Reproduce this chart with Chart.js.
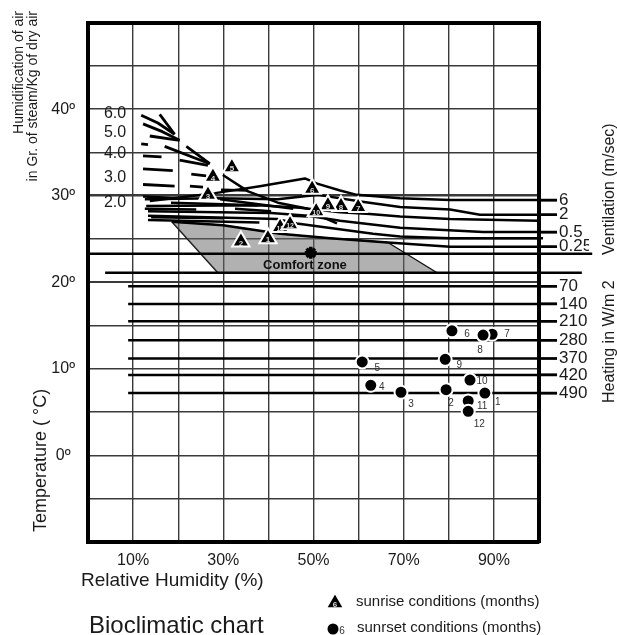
<!DOCTYPE html>
<html><head><meta charset="utf-8">
<script src="https://cdn.jsdelivr.net/npm/chart.js@4.4.0/dist/chart.umd.min.js"></script>
<style>html,body{margin:0;padding:0;background:#fff}#wrap{width:617px;height:635px;position:relative}</style>
</head><body><div id="wrap"><canvas id="c"></canvas></div>
<script>
// ---------------- DATA ----------------
const rhTicksShown = [10, 30, 50, 70, 90];
const tempTicksShown = [0, 10, 20, 30, 40];
const months = [1,2,3,4,5,6,7,8,9,10,11,12];
// sunrise conditions (triangles)
const sunriseRH = [39.9, 33.9, 26.6, 27.7, 31.9, 49.7, 59.9, 56.1, 53.2, 50.6, 42.6, 44.8];
const sunriseT  = [25.1, 24.7, 30.1, 32.2, 33.3, 30.8, 28.7, 28.8, 28.9, 28.2, 26.4, 26.7];
// sunset conditions (dots)
const sunsetRH  = [88.0, 79.4, 69.4, 62.7, 60.8, 80.7, 89.6, 87.6, 79.2, 84.7, 84.3, 84.3];
const sunsetT   = [7.2, 7.6, 7.3, 8.1, 10.8, 14.4, 14.0, 13.9, 11.1, 8.7, 6.3, 5.1];
// ventilation (m/sec) scale on the right
const ventLabels = ['6', '2', '0.5', '0.25'];
const ventT      = [29.5, 27.8, 25.8, 24.1];
// heating (W/m2) scale on the right
const heatLabels = ['70', '140', '210', '280', '370', '420', '490'];
const heatT      = [19.55, 17.5, 15.5, 13.3, 11.2, 9.3, 7.2];
const heatLineRH = [8.9, 104];
// humidification (g/kg) labels
const humidLabels  = ['6.0', '5.0', '4.0', '3.0', '2.0'];
const humidLabelT  = [39.5, 37.3, 34.9, 32.1, 29.2];
const humidLabelRH = 6.0;
// ventilation curves [RH %, T °C]
const ventCurve6   = [[13.7,29.4],[28.2,30.3],[38.1,31.1],[48.1,32.0],[50.8,31.4],[55.9,30.6],[59.6,30.1],[69.2,29.7],[80.3,29.5],[104,29.5]];
const ventCurve2   = [[12.6,29.6],[28.2,29.7],[42.1,29.6],[51.0,30.1],[60.8,29.3],[69.2,28.7],[80.3,28.4],[86.9,27.8],[104,27.8]];
const ventCurve1   = [[12.9,28.8],[37.7,28.9],[47.0,28.6],[55.9,28.1],[62.5,27.9],[69.2,27.6],[80.3,27.3],[100,27.1]];
const ventCurve05  = [[13.3,28.2],[40.6,28.0],[48.8,27.7],[55.9,27.1],[69.2,26.3],[87.6,25.8],[104,25.8]];
const ventCurve03  = [[13.3,27.7],[42.1,27.3],[46.3,26.8],[63.2,25.6],[69.2,25.3],[80.3,25.1],[100.9,25.1]];
const ventCurve025 = [[18.6,27.0],[29.9,26.6],[42.6,25.6],[53.7,25.1],[66.5,24.6],[80.3,24.1],[104,24.1]];
// humidification strokes
const humidStrokes = [
  [[11.8,39.3],[15.5,38.4],[19.2,37.1]],
  [[15.9,39.4],[19.2,37.1]],
  [[12.2,38.3],[16.5,37.4],[20.3,36.4]],
  [[13.7,36.9],[20.3,36.4]],
  [[11.8,36.0],[13.3,35.9]],
  [[17.0,35.7],[27.0,33.7]],
  [[21.8,35.7],[27.0,33.7]],
  [[20.3,34.1],[26.6,33.5]],
  [[12.2,34.6],[16.3,34.5]],
  [[12.2,33.1],[18.8,32.9]],
  [[22.9,32.5],[26.2,32.3]],
  [[12.2,31.3],[19.2,31.1]],
  [[22.6,31.1],[25.5,31.0]]
];
// dense strokes near the 2.0 level
const bundleStrokes = [
  [[29.9,32.4],[35.5,30.5],[42.1,29.2],[48.8,28.5]],
  [[29.5,30.7],[35.5,30.6]],
  [[18.4,29.2],[37.7,28.9]],
  [[32.6,28.5],[40.6,28.2]],
  [[45.0,27.7],[48.8,27.6]],
  [[52.1,27.5],[55.2,26.8]],
  [[13.3,27.2],[38.0,26.9]],
  [[29.3,29.6],[45.5,28.5]],
  [[12.2,29.9],[20.4,29.7]],
  [[12.6,28.5],[24.0,28.4]],
  [[14.0,27.5],[30.0,27.4]]
];
// comfort zone
const comfortTop    = [[18.6,27.0],[29.9,26.6],[42.6,25.6],[53.7,25.1],[66.5,24.6],[77.4,21.1]];
const comfortBottom = [[18.6,27.0],[28.8,21.1],[77.4,21.1]];
const comfortCenter = [49.4, 23.4];
const longLines = [ [[0,23.3],[111.8,23.3]], [[3.8,21.1],[109.5,21.1]] ];

// ---------------- STYLE / LAYOUT ----------------
const FONT = '"Liberation Sans", Arial, Helvetica, sans-serif';
const sunsetLabelOffset = [[13,9],[5,14],[10,12],[11,2],[15,6],[15,3],[15,0],[-3,15],[14,6],[12,1],[14,5],[11,13]];
const comfortLabel = 'Comfort zone';
const comfortLabelAt = [48.1, 21.9];

const pts = arr => arr.map(p => ({x: p[0], y: p[1]}));
const lineBase = {showLine: true, pointRadius: 0, pointHoverRadius: 0, borderColor: '#000', backgroundColor: '#000', fill: false, tension: 0, clip: false};

const datasets = [];
datasets.push({label: 'sunrise', data: sunriseRH.map((v, i) => ({x: v, y: sunriseT[i]})), pointStyle: 'triangle', pointRadius: 10, pointBackgroundColor: '#000', pointBorderColor: '#fff', pointBorderWidth: 2, showLine: false});
datasets.push({label: 'sunset', data: sunsetRH.map((v, i) => ({x: v, y: sunsetT[i]})), pointStyle: 'circle', pointRadius: 6.5, pointBackgroundColor: '#000', pointBorderColor: '#fff', pointBorderWidth: 2, showLine: false});
datasets.push({label: 'comfortMark', data: pts([comfortCenter]), pointStyle: 'star', pointRadius: 6, pointBorderWidth: 3.5, pointBorderColor: '#000', pointBackgroundColor: '#000', showLine: false});
[ventCurve6, ventCurve2, ventCurve1, ventCurve05, ventCurve03, ventCurve025].forEach(c => datasets.push(Object.assign({}, lineBase, {data: pts(c), borderWidth: 2.5})));
humidStrokes.forEach(c => datasets.push(Object.assign({}, lineBase, {data: pts(c), borderWidth: 2.8})));
bundleStrokes.forEach(c => datasets.push(Object.assign({}, lineBase, {data: pts(c), borderWidth: 2.5})));
heatT.forEach(t => datasets.push(Object.assign({}, lineBase, {data: heatLineRH.map(r => ({x: r, y: t})), borderWidth: 2.5})));
longLines.forEach(c => datasets.push(Object.assign({}, lineBase, {data: pts(c), borderWidth: 2.5})));
datasets.push({label: 'comfortTop', data: pts(comfortTop), showLine: true, pointRadius: 0, borderColor: '#111', borderWidth: 1.4, backgroundColor: 'rgba(100,100,100,0.5)', fill: '+1', tension: 0});
datasets.push({label: 'comfortBottom', data: pts(comfortBottom), showLine: true, pointRadius: 0, borderColor: '#111', borderWidth: 1.6, fill: false, tension: 0});

const rightTickT = ventT.concat(heatT);
const rightTickLabels = ventLabels.concat(heatLabels);

const annot = {
  id: 'annot',
  afterDatasetsDraw(chart) {
    const {ctx} = chart;
    const x = chart.scales.x, y = chart.scales.y;
    ctx.save();
    ctx.textAlign = 'center'; ctx.textBaseline = 'middle';
    chart.getDatasetMeta(0).data.forEach((el, i) => {
      const m = String(months[i]);
      ctx.font = 'bold ' + (m.length > 1 ? 7 : 8) + 'px ' + FONT;
      ctx.fillStyle = '#dcdcdc';
      ctx.fillText(m, el.x, el.y + 2);
    });
    ctx.font = '10px ' + FONT; ctx.fillStyle = '#333';
    chart.getDatasetMeta(1).data.forEach((el, i) => {
      const o = sunsetLabelOffset[i];
      ctx.fillText(String(months[i]), el.x + o[0], el.y + o[1]);
    });
    ctx.font = '16px ' + FONT; ctx.fillStyle = '#1a1a1a';
    humidLabels.forEach((t, i) => ctx.fillText(t, x.getPixelForValue(humidLabelRH), y.getPixelForValue(humidLabelT[i])));
    ctx.font = 'bold 13px ' + FONT; ctx.fillStyle = '#111';
    ctx.fillText(comfortLabel, x.getPixelForValue(comfortLabelAt[0]), y.getPixelForValue(comfortLabelAt[1]));
    ctx.restore();
  },
  afterDraw(chart) {
    const {ctx} = chart;
    ctx.save();
    ctx.fillStyle = '#1a1a1a';
    const vtext = (t, px, py, size, align) => {
      ctx.save(); ctx.translate(px, py); ctx.rotate(-Math.PI / 2);
      ctx.font = size + 'px ' + FONT; ctx.textAlign = align; ctx.textBaseline = 'middle';
      ctx.fillText(t, 0, 0); ctx.restore();
    };
    vtext('Humidification of air', 19, 11, 14, 'right');
    vtext('in Gr. of steam/Kg of dry air', 33, 11, 14, 'right');
    vtext('Temperature ( \u00B0C)', 41, 532, 18, 'left');
    vtext('Ventilation (m/sec)', 610, 255, 16, 'left');
    vtext('Heating in W/m 2', 610, 403, 16, 'left');
    ctx.textBaseline = 'middle'; ctx.textAlign = 'left';
    ctx.font = '19px ' + FONT;
    ctx.fillText('Relative Humidity (%)', 81, 581);
    ctx.font = '24px ' + FONT;
    ctx.fillText('Bioclimatic chart', 89, 626);
    // legend
    ctx.fillStyle = '#000'; ctx.strokeStyle = '#fff'; ctx.lineWidth = 1.5;
    Chart.helpers.drawPoint(ctx, {pointStyle: 'triangle', radius: 10, borderWidth: 1.5, rotation: 0}, 335, 603);
    ctx.fillStyle = '#dcdcdc'; ctx.font = 'bold 8px ' + FONT; ctx.textAlign = 'center';
    ctx.fillText('6', 335, 605);
    ctx.fillStyle = '#000';
    Chart.helpers.drawPoint(ctx, {pointStyle: 'circle', radius: 5.5, borderWidth: 0, rotation: 0}, 333, 629);
    ctx.fillStyle = '#333'; ctx.font = '10px ' + FONT;
    ctx.fillText('6', 342, 631);
    ctx.fillStyle = '#1a1a1a'; ctx.textAlign = 'left'; ctx.font = '15px ' + FONT;
    ctx.fillText('sunrise conditions (months)', 356, 602);
    ctx.fillText('sunrset conditions (months)', 357, 628);
    ctx.restore();
  }
};

new Chart(document.getElementById('c'), {
  type: 'scatter',
  data: {datasets},
  plugins: [annot],
  options: {
    responsive: true, maintainAspectRatio: false, animation: false, devicePixelRatio: 1,
    layout: {padding: {left: 48, right: 28, top: 10, bottom: 63}},
    plugins: {legend: {display: false}, tooltip: {enabled: false}},
    elements: {line: {borderJoinStyle: 'round'}},
    scales: {
      x: {
        type: 'linear', position: 'bottom', min: 0, max: 100,
        afterFit: s => { s.height = 30; },
        ticks: {stepSize: 10, autoSkip: false, maxRotation: 0, padding: 9, color: '#1a1a1a', font: {size: 16, family: FONT},
          callback: v => rhTicksShown.includes(v) ? v + '%' : ''},
        grid: {color: '#3a3a3a', lineWidth: 1.4, drawTicks: false},
        border: {display: true, color: '#000', width: 4}
      },
      x2: {
        type: 'linear', position: 'top', min: 0, max: 100, display: true,
        afterFit: s => { s.height = 0; },
        ticks: {display: false}, grid: {display: false},
        border: {display: true, color: '#000', width: 4}
      },
      y: {
        type: 'linear', position: 'left', min: -10, max: 50,
        afterFit: s => { s.width = 40; },
        ticks: {stepSize: 5, autoSkip: false, crossAlign: 'center', padding: 13, color: '#1a1a1a', font: {size: 16, family: FONT},
          callback: v => tempTicksShown.includes(v) ? v + '\u00BA' : ''},
        grid: {color: '#3a3a3a', lineWidth: c => (c.tick && (c.tick.value === 30)) ? 2.6 : ((c.tick && c.tick.value === 20) ? 2 : 1.4), drawTicks: false},
        border: {display: true, color: '#000', width: 4}
      },
      y2: {
        type: 'linear', position: 'right', min: -10, max: 50, display: true,
        afterFit: s => { s.width = 50; },
        afterBuildTicks: s => { s.ticks = rightTickT.map(v => ({value: v})); },
        ticks: {autoSkip: false, padding: 2, color: '#1a1a1a', font: {size: 17, family: FONT},
          callback: (v, i) => rightTickLabels[i]},
        grid: {drawOnChartArea: false, drawTicks: true, tickLength: 18, tickWidth: 2, tickColor: '#000', color: '#000'},
        border: {display: true, color: '#000', width: 4}
      }
    }
  }
});
</script></body></html>
